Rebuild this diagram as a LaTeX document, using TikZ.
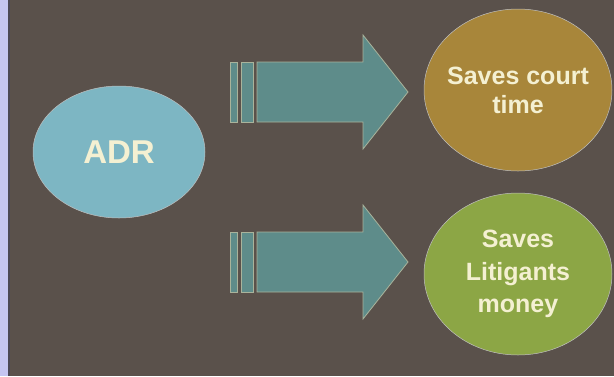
\documentclass[tikz,border=0pt]{standalone}
\usepackage{fontspec}
\setmainfont{Liberation Sans}
\usepackage{xcolor}
\usetikzlibrary{positioning,shapes.geometric}
\definecolor{slate}{HTML}{5A514B}
\definecolor{lavender}{HTML}{C5C5F2}
\definecolor{rim}{HTML}{4C4856}
\definecolor{adrfill}{HTML}{7DB6C3}
\definecolor{courtfill}{HTML}{A8863A}
\definecolor{moneyfill}{HTML}{8CA645}
\definecolor{arrowfill}{HTML}{5E8C8A}
\definecolor{arrowedge}{HTML}{A9B39B}
\definecolor{cream}{HTML}{F4F0D2}
\tikzset{
  bubble/.style={
    ellipse,
    draw=black!25,
    line width=0.5pt,
    inner sep=0pt,
    align=center,
    text=cream
  },
  source/.style={fill=adrfill, minimum width=172pt, minimum height=132pt,
    font=\fontsize{33}{38}\selectfont\bfseries},
  outcome/.style={minimum width=188pt, minimum height=162pt, inner xsep=-10pt},
  blockarrow/.style={fill=arrowfill, draw=arrowedge, line width=0.8pt, line join=miter}
}
% fat arrow with two stripes, #1 = left end of the shaft axis
\newcommand{\fatarrow}[1]{%
  \draw[blockarrow] (#1) ++(0,-30) rectangle ++(7,60);
  \draw[blockarrow] (#1) ++(11,-30) rectangle ++(12,60);
  \draw[blockarrow] (#1) ++(27,-30) -- ++(106,0) -- ++(0,-27) -- ++(45,57)
    -- ++(-45,57) -- ++(0,-27) -- ++(-106,0) -- cycle;
}

\begin{document}
\begin{tikzpicture}[x=1pt,y=-1pt]
\useasboundingbox (0,0) rectangle (614,376);
\fill[slate] (0,0) rectangle (614,376);
\fill[lavender] (0,0) rectangle (8,376);
\fill[rim] (8,0) rectangle (10,376);

\node[bubble, source] (adr) at (119,152) {ADR};
\node[bubble, outcome, fill=courtfill, font=\fontsize{25}{29}\selectfont\bfseries]
  (court) at (518,90) {Saves court\\time};
\node[bubble, outcome, fill=moneyfill, font=\fontsize{25}{32.5}\selectfont\bfseries]
  (money) at (518,274) {Saves\\Litigants\\money};

\coordinate (upper) at (230,92);
\coordinate (lower) at (230,262);
\fatarrow{upper}
\fatarrow{lower}

\end{tikzpicture}
\end{document}
